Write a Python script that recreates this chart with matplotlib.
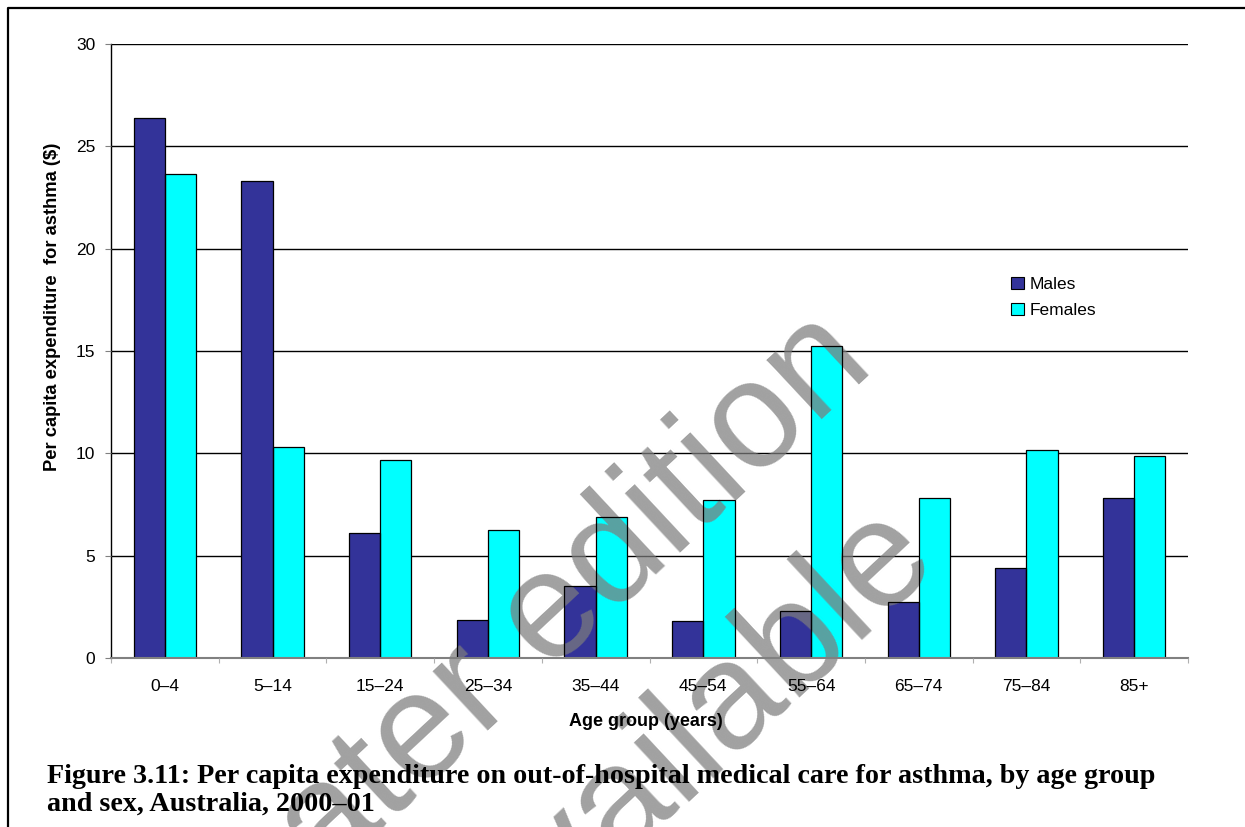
import matplotlib
matplotlib.use('Agg')
import matplotlib.pyplot as plt
import numpy as np
from matplotlib.lines import Line2D
from matplotlib.patches import Patch

# ---------------- data ----------------
age_groups = ['0–4', '5–14', '15–24', '25–34', '35–44', '45–54', '55–64', '65–74', '75–84', '85+']
males = [26.4, 23.3, 6.1, 1.85, 3.5, 1.8, 2.3, 2.75, 4.4, 7.8]
females = [23.65, 10.3, 9.65, 6.25, 6.9, 7.7, 15.25, 7.8, 10.15, 9.85]
series_names = ['Males', 'Females']
y_ticks = [0, 5, 10, 15, 20, 25, 30]

x_title = 'Age group (years)'
y_title = 'Per capita expenditure  for asthma ($)'
caption1 = 'Figure 3.11: Per capita expenditure on out-of-hospital medical care for asthma, by age group'
caption2 = 'and sex, Australia, 2000–01'
watermark1 = 'Later edition'
watermark2 = 'available'

# ---------------- layout ----------------
W, H = 1245, 827
fig = plt.figure(figsize=(W / 100, H / 100), dpi=100)
fig.patch.set_facecolor('white')

def fx(px):
    return px / W

def fy(py):
    return 1 - py / H

ax_left, ax_right, ax_top, ax_bottom = 111, 1188, 44, 658
ax = fig.add_axes([fx(ax_left), fy(ax_bottom), (ax_right - ax_left) / W, (ax_bottom - ax_top) / H])
ax.set_facecolor('none')

navy = '#333399'
cyan = '#00FFFF'
sans = ['Liberation Sans', 'DejaVu Sans']

x = np.arange(len(age_groups))
bw = 0.29

# gridlines (below bars)
for yv in y_ticks[1:]:
    ax.axhline(yv, color='black', lw=1.0, zorder=0.8)

# bar fills
ax.bar(x - bw / 2, males, bw, color=navy, edgecolor='none', zorder=1)
ax.bar(x + bw / 2, females, bw, color=cyan, edgecolor='none', zorder=1)
# bar edges (above watermark)
ax.bar(x - bw / 2, males, bw, fill=False, edgecolor='black', lw=0.9, zorder=1.6)
ax.bar(x + bw / 2, females, bw, fill=False, edgecolor='black', lw=0.9, zorder=1.6)

ax.set_xlim(-0.5, len(age_groups) - 0.5)
ax.set_ylim(0, 30)
ax.set_axisbelow(False)

ax.set_yticks(y_ticks)
ax.set_yticklabels([str(v) for v in y_ticks], fontfamily=sans)
ax.tick_params(axis='y', direction='out', length=4.3, width=0.8, color='#808080',
               pad=7, labelsize=12.5, labelcolor='black')

ax.set_xticks(x)
ax.set_xticklabels(age_groups, fontfamily=sans)
ax.tick_params(axis='x', which='major', length=0, pad=15, labelsize=12.5, labelcolor='black')
ax.set_xticks(np.arange(-0.5, len(age_groups), 1), minor=True)
ax.tick_params(axis='x', which='minor', direction='out', length=3.6, width=0.8, color='#b0b0b0')

for s in ['top', 'right']:
    ax.spines[s].set_visible(False)
ax.spines['left'].set_color('black')
ax.spines['left'].set_linewidth(1.0)
ax.spines['bottom'].set_color('#808080')
ax.spines['bottom'].set_linewidth(1.5)

# axis titles
fig.text(fx(645.5), fy(726), x_title, ha='center', va='baseline', fontsize=13,
         fontweight='bold', fontfamily=sans)
fig.text(fx(57), fy(306.5), y_title, ha='center', va='baseline', rotation=90,
         rotation_mode='anchor', fontsize=13.2, fontweight='bold', fontfamily=sans)

# legend
handles = [Patch(facecolor=navy, edgecolor='black', lw=0.8),
           Patch(facecolor=cyan, edgecolor='black', lw=0.8)]
leg = fig.legend(handles, series_names, loc='upper left',
                 bbox_to_anchor=(fx(1011), fy(276.5)), bbox_transform=fig.transFigure,
                 frameon=False, prop={'family': sans, 'size': 12.5},
                 handlelength=0.75, handleheight=0.75, handletextpad=0.3,
                 labelspacing=0.62, borderpad=0, borderaxespad=0)

# watermark (drawn over bar fills, under edges / labels)
wm_color = (0.49, 0.49, 0.49)
for txt, (px, py) in [(watermark1, (570, 653)), (watermark2, (720, 765))]:
    ax.text(fx(px), fy(py), txt, transform=fig.transFigure, rotation=43,
            rotation_mode='anchor', ha='center', va='baseline', fontsize=109.5,
            color=wm_color, alpha=0.72, fontfamily=sans, clip_on=False, zorder=1.5)

# caption (serif bold), fitted to reference width
cap_kw = dict(fontfamily=['Liberation Serif', 'DejaVu Serif'], fontweight='bold',
              ha='left', va='baseline', color='black')
c1 = fig.text(fx(47), fy(782.7), caption1, fontsize=18, **cap_kw)
c2 = fig.text(fx(47), fy(810.7), caption2, fontsize=18, **cap_kw)
fig.canvas.draw()
r = fig.canvas.get_renderer()
w1 = c1.get_window_extent(r).width
fs = 18 * (1109 / w1)
c1.set_fontsize(fs)
c2.set_fontsize(fs)

# page border (left and top)
fig.add_artist(Line2D([fx(8.3), fx(8.3), 1.0], [0.0, fy(8), fy(8)],
                      transform=fig.transFigure, color='black', lw=1.6))

fig.savefig('out.png', dpi=100)
